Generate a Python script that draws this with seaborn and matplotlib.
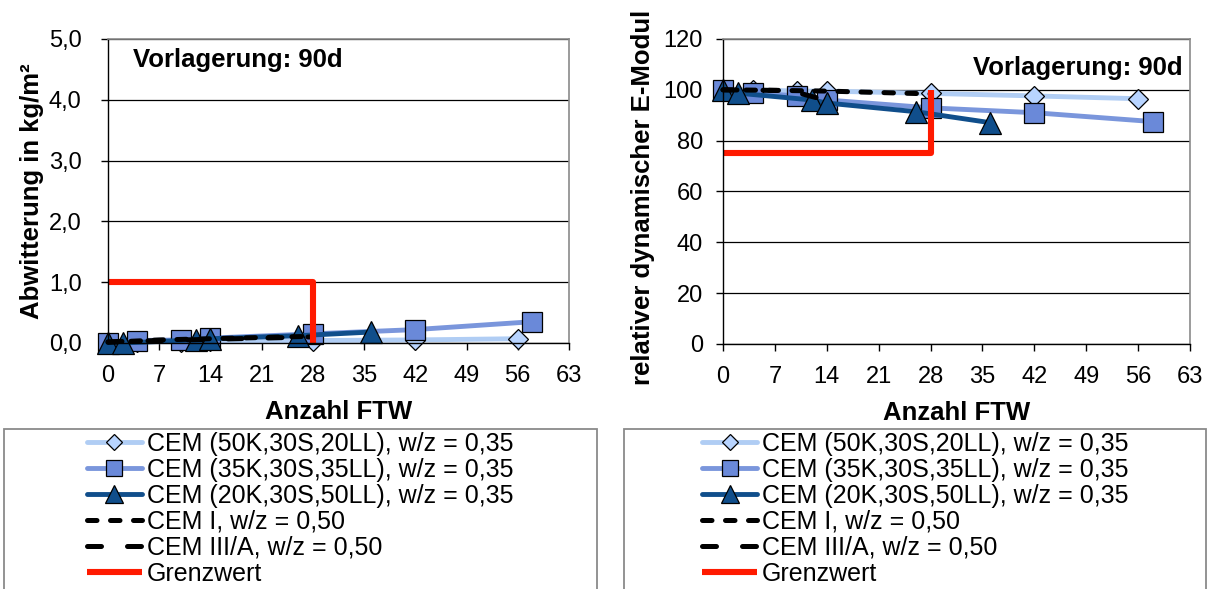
import matplotlib
matplotlib.use("Agg")
import matplotlib.pyplot as plt
import matplotlib.ticker as mticker
from matplotlib.patches import Rectangle
from matplotlib.lines import Line2D
import seaborn as sns
import pandas as pd

sns.set_theme(style="white")
plt.rcParams["font.family"] = ["Liberation Sans", "DejaVu Sans"]
for key in ("text.color", "axes.labelcolor", "xtick.color", "ytick.color"):
    plt.rcParams[key] = "black"

# ---- series labels ----
labels = [
    "CEM (50K,30S,20LL), w/z = 0,35",
    "CEM (35K,30S,35LL), w/z = 0,35",
    "CEM (20K,30S,50LL), w/z = 0,35",
    "CEM I, w/z = 0,50",
    "CEM III/A, w/z = 0,50",
    "Grenzwert",
]

# ---- scaling (Abwitterung, kg/m²) ----
scal_k50_x = [0, 4, 10, 14, 28, 42, 56]
scal_k50_y = [0.00, 0.02, 0.02, 0.03, 0.04, 0.05, 0.07]
scal_k35_x = [0, 4, 10, 14, 28, 42, 58]
scal_k35_y = [0.00, 0.04, 0.05, 0.08, 0.15, 0.22, 0.35]
scal_k20_x = [0, 2, 12, 14, 26, 36]
scal_k20_y = [0.00, 0.00, 0.05, 0.07, 0.12, 0.18]
scal_cem1_x = [0, 7, 14, 28]
scal_cem1_y = [0.01, 0.05, 0.07, 0.11]
scal_cem3_x = [0, 7, 14, 28]
scal_cem3_y = [0.02, 0.04, 0.06, 0.10]
scal_limit_x = [0, 28, 28]
scal_limit_y = [1.0, 1.0, 0.0]

# ---- relative dynamic modulus (%) ----
mod_k50_x = [0, 4, 10, 14, 28, 42, 56]
mod_k50_y = [100, 100, 99.5, 99.5, 98.6, 97.6, 96.5]
mod_k35_x = [0, 4, 10, 14, 28, 42, 58]
mod_k35_y = [100, 98.8, 97.6, 96.0, 92.9, 91.0, 87.5]
mod_k20_x = [0, 2, 12, 14, 26, 36]
mod_k20_y = [100, 98.7, 96.0, 94.8, 91.4, 87.1]
mod_cem1_x = [0, 7, 14, 28]
mod_cem1_y = [100, 99.8, 99.5, 98.4]
mod_cem3_x = [0, 9, 13]
mod_cem3_y = [100, 99.7, 96.6]
mod_limit_x = [0, 28, 28]
mod_limit_y = [75, 75, 100]

x_ticks = [0, 7, 14, 21, 28, 35, 42, 49, 56, 63]

# ---- styles ----
c_light_line, c_light_face = "#b0cdf4", "#b8d4ff"
c_mid_line, c_mid_face = "#7a96dc", "#6a89d9"
c_dark = "#104e8b"
LW = 3.5

styles = [
    dict(color=c_light_line, marker="D", markersize=10.5, markerfacecolor=c_light_face,
         markeredgecolor="black", markeredgewidth=0.9, linewidth=LW),
    dict(color=c_mid_line, marker="s", markersize=14, markerfacecolor=c_mid_face,
         markeredgecolor="black", markeredgewidth=0.9, linewidth=LW),
    dict(color=c_dark, marker="^", markersize=16, markerfacecolor=c_dark,
         markeredgecolor="black", markeredgewidth=0.9, linewidth=LW),
    dict(color="black", linewidth=3.6, dashes=(1.9, 2.7), dash_capstyle="round"),
    dict(color="black", linewidth=3.6, dashes=(2.8, 5.2), dash_capstyle="round"),
    dict(color="#ff1a00", linewidth=4.4, solid_capstyle="butt"),
]
legend_marker_sizes = [8, 11, 12.5, None, None, None]

fig = plt.figure(figsize=(12.08, 5.89), dpi=100)
ax1 = fig.add_axes([0.0894, 0.4177, 0.3816, 0.5161])
ax2 = fig.add_axes([0.5985, 0.4160, 0.3866, 0.5178])


def draw(ax, series):
    for (xs, ys), st in zip(series, styles):
        df = pd.DataFrame({"x": xs, "y": ys})
        sns.lineplot(data=df, x="x", y="y", ax=ax, estimator=None, sort=False,
                     legend=False, clip_on=False, **st)


draw(ax1, [(scal_k50_x, scal_k50_y), (scal_k35_x, scal_k35_y), (scal_k20_x, scal_k20_y),
           (scal_cem1_x, scal_cem1_y), (scal_cem3_x, scal_cem3_y),
           (scal_limit_x, scal_limit_y)])
draw(ax2, [(mod_k50_x, mod_k50_y), (mod_k35_x, mod_k35_y), (mod_k20_x, mod_k20_y),
           (mod_cem1_x, mod_cem1_y), (mod_cem3_x, mod_cem3_y),
           (mod_limit_x, mod_limit_y)])


def style_axes(ax, ymax, ystep, fmt, ylabel, ypad):
    ax.set_xlim(0, 63)
    ax.set_ylim(0, ymax)
    ax.set_xticks(x_ticks)
    ax.set_yticks([ystep * i for i in range(int(round(ymax / ystep)) + 1)])
    ax.yaxis.set_major_formatter(mticker.FuncFormatter(fmt))
    ax.grid(axis="y", color="black", linewidth=0.9)
    ax.grid(axis="x", visible=False)
    ax.set_axisbelow(True)
    for side in ("left", "bottom"):
        ax.spines[side].set_color("black")
        ax.spines[side].set_linewidth(1.0)
    for side in ("top", "right"):
        ax.spines[side].set_color("#8a8a8a")
        ax.spines[side].set_linewidth(1.2)
    ax.tick_params(axis="both", which="major", direction="out", length=5, width=1,
                   color="black", labelsize=17, bottom=True, left=True)
    ax.tick_params(axis="x", pad=11)
    ax.tick_params(axis="y", pad=ypad)
    ax.set_xlabel("Anzahl FTW", fontsize=18.5, fontweight="bold", labelpad=9)
    ax.set_ylabel(ylabel, fontsize=18.5, fontweight="bold")


style_axes(ax1, 5.0, 1.0, lambda v, p: f"{v:.1f}".replace(".", ","),
           "Abwitterung in kg/m²", 14)
style_axes(ax2, 120, 20, lambda v, p: f"{v:.0f}", "relativer dynamischer E-Modul", 9.5)
ax1.yaxis.set_label_coords(-0.139, 0.5)
ax2.yaxis.set_label_coords(-0.146, 0.48)

ax1.text(0.054, 0.931, "Vorlagerung: 90d", transform=ax1.transAxes, fontsize=18.5,
         fontweight="bold", ha="left", va="center")
ax2.text(0.985, 0.905, "Vorlagerung: 90d", transform=ax2.transAxes, fontsize=18.5,
         fontweight="bold", ha="right", va="center")

# ---- legends below each chart, inside an open-bottomed frame ----
handles = []
for st, ms in zip(styles, legend_marker_sizes):
    st = dict(st)
    if ms is not None:
        st["markersize"] = ms
    handles.append(Line2D([], [], **st))

for box_x0, box_x1, anchor_x in ((4, 597, 87), (624, 1206, 702)):
    fig.patches.append(Rectangle((box_x0 / 1208, -0.2), (box_x1 - box_x0) / 1208,
                                 0.2 + 1 - 429 / 589, transform=fig.transFigure,
                                 facecolor="none", edgecolor="#8a8a8a", linewidth=1.3))
    fig.legend(handles, labels, loc="upper left",
               bbox_to_anchor=(anchor_x / 1208, 1 - 432 / 589),
               bbox_transform=fig.transFigure, frameon=False, fontsize=18,
               handlelength=2.2, handletextpad=0.2, labelspacing=0.08,
               borderpad=0.0, borderaxespad=0.0, numpoints=1)

fig.savefig("out.png", dpi=100)
